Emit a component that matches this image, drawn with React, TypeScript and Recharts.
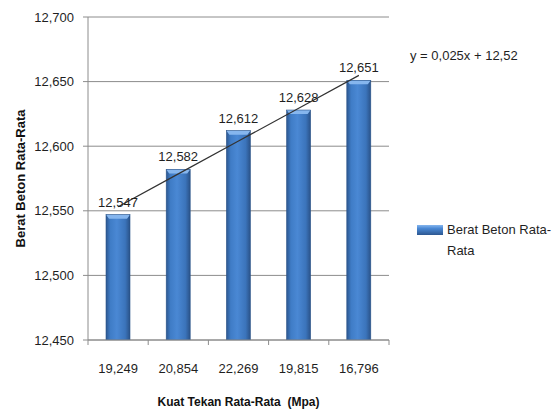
import { ComposedChart, Bar, Line, XAxis, YAxis, CartesianGrid, LabelList } from 'recharts';

const categories = ['19,249', '20,854', '22,269', '19,815', '16,796'];
const beratBeton = [12.547, 12.582, 12.612, 12.628, 12.651];
const yTicks = [12.45, 12.5, 12.55, 12.6, 12.65, 12.7];

const W = 553;
const H = 410;
const MARGIN = { top: 17, right: 164, bottom: 30, left: 8 };
const Y_AXIS_W = 80;
const PLOT_W = W - MARGIN.left - MARGIN.right - Y_AXIS_W;
const FONT = '"Liberation Sans", Arial, sans-serif';
const TEXT = '#1f1f1f';
const GRID = '#8c8c8c';

// Linear (least squares) trendline over category positions 1..n
const n = beratBeton.length;
const xs = beratBeton.map((_, i) => i + 1);
const meanX = xs.reduce((a, b) => a + b, 0) / n;
const meanY = beratBeton.reduce((a, b) => a + b, 0) / n;
const slope =
  xs.reduce((s, x, i) => s + (x - meanX) * (beratBeton[i] - meanY), 0) /
  xs.reduce((s, x) => s + (x - meanX) ** 2, 0);
const intercept = meanY - slope * meanX;

const data = categories.map((name, i) => ({
  name,
  berat: beratBeton[i],
  trend: intercept + slope * (i + 1),
}));

const fmt3 = (v: number) => v.toFixed(3).replace('.', ',');

const BevelBar = (props: any) => {
  const { x, y, width, height } = props;
  if (!height || height <= 0) return null;
  return (
    <g>
      <rect x={x} y={y} width={width} height={height} fill="url(#barGrad)" />
      <polygon
        points={`${x},${y} ${x + width},${y} ${x + width - 3},${y + 4} ${x + 3},${y + 4}`}
        fill="#86b6ee"
      />
      <rect x={x} y={y} width={width} height={height} fill="none" stroke="#2b5489" strokeWidth={0.6} />
    </g>
  );
};

// Category label plus tick marks on the band boundaries
const CategoryTick = (props: any) => {
  const { x, y, payload, index } = props;
  const band = PLOT_W / categories.length;
  const left = x - band / 2;
  return (
    <g>
      <line x1={left} x2={left} y1={y} y2={y + 5} stroke={GRID} />
      {index === categories.length - 1 && (
        <line x1={x + band / 2} x2={x + band / 2} y1={y} y2={y + 5} stroke={GRID} />
      )}
      <text x={x} y={y + 33} textAnchor="middle" fontSize={13} fill={TEXT} fontFamily={FONT}>
        {payload.value}
      </text>
    </g>
  );
};

const YTitle = (props: any) => {
  const { viewBox } = props;
  const cx = viewBox.x + 12;
  const cy = viewBox.y + viewBox.height / 2;
  return (
    <text
      x={cx}
      y={cy}
      transform={`rotate(-90 ${cx} ${cy})`}
      textAnchor="middle"
      dominantBaseline="central"
      fontSize={13}
      fontWeight="bold"
      fill="#111"
      fontFamily={FONT}
    >
      Berat Beton Rata-Rata
    </text>
  );
};

export default function App() {
  return (
    <div style={{ position: 'absolute', left: 0, top: 0, width: W, height: H, background: '#fff', fontFamily: FONT }}>
      <ComposedChart width={W} height={H} data={data} margin={MARGIN}>
        <defs>
          <linearGradient id="barGrad" x1="0" y1="0" x2="1" y2="0">
            <stop offset="0%" stopColor="#2c5790" />
            <stop offset="18%" stopColor="#3f7cc6" />
            <stop offset="45%" stopColor="#4a88d4" />
            <stop offset="80%" stopColor="#3b74bb" />
            <stop offset="100%" stopColor="#2a5288" />
          </linearGradient>
        </defs>
        <CartesianGrid vertical={false} stroke={GRID} />
        <XAxis
          dataKey="name"
          stroke={GRID}
          tickLine={false}
          tickSize={0}
          tickMargin={0}
          height={40}
          tick={<CategoryTick />}
          interval={0}
        />
        <YAxis
          width={Y_AXIS_W}
          domain={[12.45, 12.7]}
          ticks={yTicks}
          tickFormatter={fmt3}
          stroke={GRID}
          tickSize={5}
          tickMargin={9}
          tick={{ fill: TEXT, fontSize: 13, fontFamily: FONT }}
          allowDataOverflow
          label={<YTitle />}
        />
        <Bar dataKey="berat" barSize={24} shape={<BevelBar />} isAnimationActive={false}>
          <LabelList
            dataKey="berat"
            position="top"
            offset={8}
            formatter={(v: any) => fmt3(Number(v))}
            style={{ fill: TEXT, fontSize: 13, fontFamily: FONT }}
          />
        </Bar>
        <Line
          dataKey="trend"
          type="linear"
          stroke="#333"
          strokeWidth={1.2}
          dot={false}
          activeDot={false}
          isAnimationActive={false}
        />
      </ComposedChart>

      <div style={{ position: 'absolute', left: 410, top: 48, fontSize: 13, color: TEXT, whiteSpace: 'nowrap' }}>
        y = 0,025x + 12,52
      </div>

      <div style={{ position: 'absolute', left: 417, top: 219, fontSize: 13, color: TEXT, lineHeight: '21px' }}>
        <div style={{ display: 'flex', alignItems: 'center' }}>
          <span
            style={{
              display: 'inline-block',
              width: 26,
              height: 10,
              marginRight: 4,
              background: 'linear-gradient(180deg, #86b6ee 0%, #4a88d4 35%, #2c5790 100%)',
            }}
          />
          <span style={{ whiteSpace: 'nowrap' }}>Berat Beton Rata-</span>
        </div>
        <div style={{ paddingLeft: 30 }}>Rata</div>
      </div>

      <div
        style={{
          position: 'absolute',
          left: 0,
          width: 477,
          top: 395,
          textAlign: 'center',
          fontSize: 12,
          fontWeight: 'bold',
          color: '#111',
          whiteSpace: 'pre',
        }}
      >
        Kuat Tekan Rata-Rata  (Mpa)
      </div>
    </div>
  );
}
